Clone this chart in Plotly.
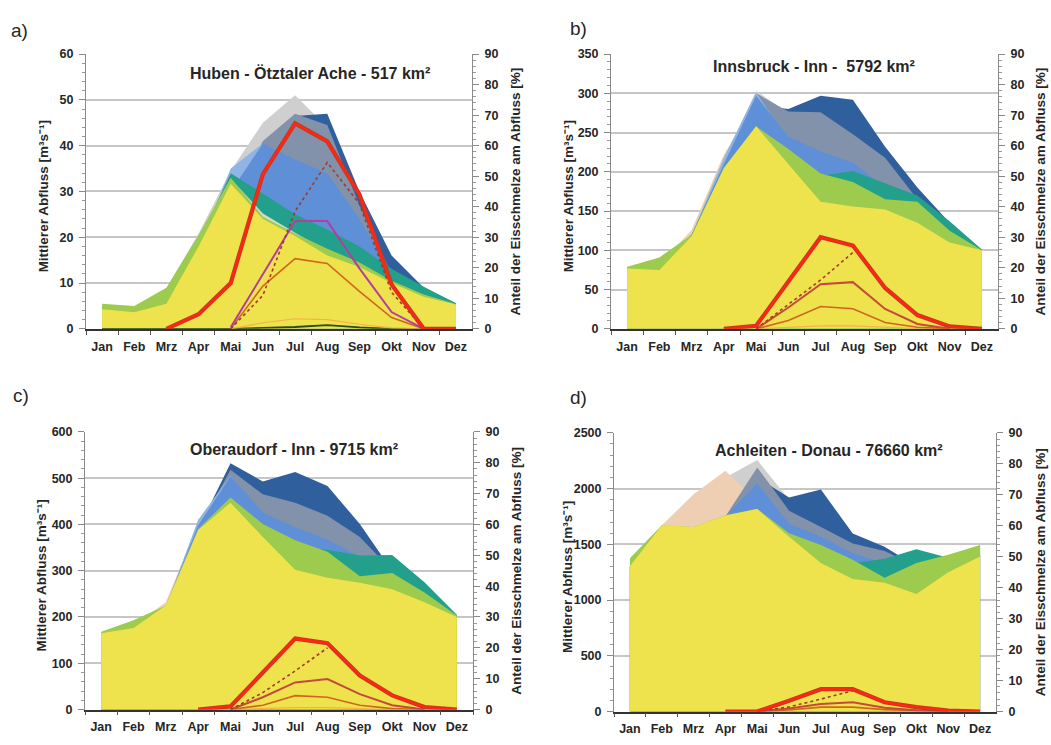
import plotly.graph_objects as go

months = ["Jan", "Feb", "Mrz", "Apr", "Mai", "Jun", "Jul", "Aug", "Sep", "Okt", "Nov", "Dez"]

titles = ["Huben - Ötztaler Ache - 517 km²", "Innsbruck - Inn -  5792 km²",
          "Oberaudorf - Inn - 9715 km²", "Achleiten - Donau - 76660 km²"]
panel_labels = ["a)", "b)", "c)", "d)"]
left_max = [60, 350, 600, 2500]
left_dtick = [10, 50, 100, 500]
right_max = 90
right_dtick = 10

# ---- a) Huben - Ötztaler Ache (m3/s) ----
a_lightgray = [5.2, 4.6, 8.8, 20.8, 34.5, 45, 51, 44, 28, 14, 8.5, 5.5]
a_darkblue = [4, 3.5, 5, 16, 28, 36, 46.5, 47, 30, 16, 9.0, 5.6]
a_slate = [4, 3.5, 5, 16, 28, 41, 47, 44.5, 27, 12, 8, 5.5]
a_lightblue = [4, 3.5, 5, 18, 35, 40.5, 30, 20, 14, 10, 7, 5]
a_medblue = [4, 3.5, 5, 16, 30, 40.5, 37, 34, 24, 12, 8, 5]
a_teal = [5, 4.5, 8, 19, 34, 29.5, 25, 21.7, 18, 13.1, 9.2, 5.6]
a_silver = [4, 3.5, 5, 19.5, 32.8, 25.2, 21, 17, 14, 10, 7, 5.3]
a_green = [5.5, 5, 9, 20.5, 33, 24.5, 20.8, 17.5, 14.5, 10.5, 7.5, 5.4]
a_yellow = [4.3, 3.6, 5.5, 18, 31.7, 24, 20.3, 16, 13.5, 10, 7, 5.3]
a_dkgreen = [0, 0, 0, 0, 0, 0.2, 0.4, 0.8, 0.3, 0, 0, 0]
# percent lines
a_red = [None, None, 0, 4.8, 15, 50.7, 67.3, 61.4, 44, 14.5, 0, 0]
a_dotted = [None, None, None, None, 0, 11, 38.5, 54.5, 41, 12, 0, None]
a_magenta = [None, None, None, None, 0.5, 18, 35.3, 35.3, 19.8, 5.5, 0, None]
a_orange = [None, None, None, None, 0, 14, 23, 21.4, 12.3, 3.7, 0, None]
a_faint = [None, None, None, None, 0, 2, 3.3, 3, 1.5, 0.3, 0, None]

# ---- b) Innsbruck - Inn ----
b_lightgray = [78, 83, 120, 215, 303, 275, 255, 230, 190, 160, 125, 100]
b_peach = [77, 82, 126, 222, 290, 230, 200, 180, 160, 140, 115, 100]
b_darkblue = [77, 80, 120, 205, 285, 280, 297, 292, 232, 180, 135, 100]
b_slate = [77, 80, 120, 205, 300, 277, 276, 248, 218, 165, 125, 100]
b_lightblue = [77, 80, 120, 218, 301, 240, 210, 190, 170, 150, 110, 100]
b_medblue = [77, 80, 120, 210, 297, 245, 226, 212, 180, 150, 110, 100]
b_teal = [78, 82, 120, 205, 255, 225, 195, 201, 185, 170, 137, 101]
b_green = [79, 91, 120, 205, 258, 229, 198, 187, 165, 162, 125, 100]
b_yellow = [77, 75, 118, 205, 258, 210, 162, 156, 152, 135, 110, 100]
b_red = [None, None, None, 0, 1, 15.5, 30, 27.3, 13.4, 4.5, 0.8, 0]
b_dotted = [None, None, None, None, 0, 8, 16, 25, None, None, None, None]
b_magenta = [None, None, None, None, 0, 7, 14.6, 15.3, 6.5, 1.6, 0, None]
b_orange = [None, None, None, None, 0, 2.7, 7.3, 6.6, 2.1, 0.5, 0, None]
b_faint = [None, None, None, None, 0, 0.5, 1, 1, 0.5, 0.1, 0, None]

# ---- c) Oberaudorf - Inn ----
c_lightgray = [166, 180, 228, 395, 470, 420, 390, 360, 320, 290, 240, 200]
c_peach = [167, 182, 232, 402, 460, 400, 360, 340, 300, 280, 235, 200]
c_darkblue = [165, 180, 222, 390, 532, 493, 513, 483, 401, 300, 250, 202]
c_slate = [165, 180, 222, 390, 518, 465, 447, 419, 373, 300, 245, 200]
c_lightblue = [165, 180, 222, 410, 505, 420, 380, 350, 320, 290, 240, 200]
c_medblue = [165, 180, 222, 398, 504, 426, 394, 367, 330, 295, 240, 200]
c_teal = [165, 178, 222, 385, 440, 390, 350, 345, 333, 334, 275, 205]
c_green = [168, 193, 225, 390, 458, 401, 366, 341, 288, 295, 253, 203]
c_yellow = [165, 176, 225, 388, 447, 373, 302, 285, 274, 260, 232, 200]
c_red = [None, None, None, 0, 1, 12, 23, 21.5, 11, 4.6, 0.8, 0]
c_dotted = [None, None, None, None, 0, 5.5, 12.5, 20, None, None, None, None]
c_magenta = [None, None, None, None, 0, 4, 8.8, 9.9, 5, 1.4, 0, None]
c_orange = [None, None, None, None, 0, 1.4, 4.5, 4, 1.4, 0.3, 0, None]
c_faint = [None, None, None, None, 0, 0.3, 0.6, 0.6, 0.3, 0, 0, None]

# ---- d) Achleiten - Donau ----
d_lightgray = [1300, 1650, 1850, 2100, 2256, 1900, 1700, 1500, 1350, 1250, 1300, 1400]
d_peach = [1305, 1670, 1948, 2160, 1880, 1600, 1400, 1250, 1150, 1100, 1250, 1400]
d_darkblue = [1300, 1650, 1650, 1750, 2100, 1919, 1992, 1596, 1479, 1303, 1250, 1400]
d_slate = [1300, 1650, 1650, 1750, 2190, 1802, 1655, 1508, 1440, 1300, 1250, 1400]
d_medblue = [1300, 1650, 1650, 1750, 2050, 1684, 1567, 1420, 1330, 1250, 1250, 1400]
d_teal = [1300, 1650, 1650, 1750, 1800, 1560, 1450, 1330, 1370, 1455, 1380, 1490]
d_green = [1376, 1670, 1656, 1760, 1818, 1600, 1494, 1362, 1200, 1332, 1406, 1494]
d_yellow = [1303, 1670, 1655, 1758, 1816, 1567, 1332, 1188, 1156, 1055, 1250, 1390]
d_red = [None, None, None, 0, 0, 3.5, 7.2, 7.2, 3, 1.4, 0.3, 0]
d_dotted = [None, None, None, None, 0, 1.5, 4, 6.7, None, None, None, None]
d_magenta = [None, None, None, None, 0, 1, 2.4, 3, 1.2, 0.4, 0, None]
d_orange = [None, None, None, None, 0, 0.5, 1.4, 1.4, 0.6, 0.2, 0, None]

area_colors = {
    "lightgray": "#cfcfcf", "peach": "#efcfb4", "darkblue": "#2f5f9c", "slate": "#8292ab",
    "lightblue": "#8fb5e6", "medblue": "#5f8fd6", "teal": "#23a08c", "silver": "#d6d8c8",
    "green": "#9ccb4e", "yellow": "#eee34c",
}
area_order = ["lightgray", "peach", "darkblue", "slate", "lightblue", "medblue", "teal",
              "silver", "green", "yellow"]

panels = [
    dict(lightgray=a_lightgray, darkblue=a_darkblue, slate=a_slate, lightblue=a_lightblue,
         medblue=a_medblue, teal=a_teal, silver=a_silver, green=a_green, yellow=a_yellow,
         red=a_red, dotted=a_dotted, magenta=a_magenta, orange=a_orange, faint=a_faint,
         dkgreen=a_dkgreen, magcol="#b23f9e"),
    dict(lightgray=b_lightgray, peach=b_peach, darkblue=b_darkblue, slate=b_slate,
         lightblue=b_lightblue, medblue=b_medblue, teal=b_teal, green=b_green, yellow=b_yellow,
         red=b_red, dotted=b_dotted, magenta=b_magenta, orange=b_orange, faint=b_faint,
         magcol="#c44a3c"),
    dict(lightgray=c_lightgray, peach=c_peach, darkblue=c_darkblue, slate=c_slate,
         lightblue=c_lightblue, medblue=c_medblue, teal=c_teal, green=c_green, yellow=c_yellow,
         red=c_red, dotted=c_dotted, magenta=c_magenta, orange=c_orange, faint=c_faint,
         magcol="#c44a3c"),
    dict(lightgray=d_lightgray, peach=d_peach, darkblue=d_darkblue, slate=d_slate,
         medblue=d_medblue, teal=d_teal, green=d_green, yellow=d_yellow,
         red=d_red, dotted=d_dotted, magenta=d_magenta, orange=d_orange,
         magcol="#c44a3c"),
]

# plot-area boxes in pixels (left, right, top, bottom) on a 1051x745 page
W, H = 1051, 745
boxes = [(86, 472, 48, 328), (611, 998, 48, 328), (85, 473, 433, 716), (614, 996, 434, 718)]
label_pos = [(19, 24), (578, 22), (21, 396), (578, 398)]
title_pos = [(310, 67), (814, 61), (294, 451), (829, 452)]
ltitle_x = [43, 568, 42, 567]
rtitle_x = [515, 1040, 517, 1040]

FONT = "Liberation Sans, Arial, sans-serif"
TXT = "#262626"

fig = go.Figure()
layout = dict(width=W, height=H, margin=dict(l=0, r=0, t=0, b=0),
              paper_bgcolor="white", plot_bgcolor="white", showlegend=False,
              font=dict(family=FONT, color=TXT))
annotations = []

for i, p in enumerate(panels):
    L, R, T, B = boxes[i]
    xd = [L / W, R / W]
    yd = [1 - B / H, 1 - T / H]
    xid, yl, yr = i + 1, 2 * i + 1, 2 * i + 2
    xa, yla, yra = f"x{xid}", f"y{yl}", f"y{yr}"

    for name in area_order:
        if name in p:
            fig.add_trace(go.Scatter(x=months, y=p[name], xaxis=xa, yaxis=yla, mode="lines",
                                     fill="tozeroy", fillcolor=area_colors[name],
                                     line=dict(width=0, color=area_colors[name]),
                                     hoverinfo="skip"))
    if "dkgreen" in p:
        fig.add_trace(go.Scatter(x=months, y=p["dkgreen"], xaxis=xa, yaxis=yla, mode="lines",
                                 line=dict(width=1.8, color="#2e4a1c"), hoverinfo="skip"))

    # percent lines on right axis
    if "faint" in p:
        fig.add_trace(go.Scatter(x=months, y=p["faint"], xaxis=xa, yaxis=yra, mode="lines",
                                 line=dict(width=1.2, color="#f2b347")))
    fig.add_trace(go.Scatter(x=months, y=p["orange"], xaxis=xa, yaxis=yra, mode="lines",
                             line=dict(width=1.6, color="#d0661e")))
    fig.add_trace(go.Scatter(x=months, y=p["magenta"], xaxis=xa, yaxis=yra, mode="lines",
                             line=dict(width=2, color=p["magcol"])))
    fig.add_trace(go.Scatter(x=months, y=p["dotted"], xaxis=xa, yaxis=yra, mode="lines",
                             line=dict(width=1.6, color="#a4382a", dash="dot")))
    fig.add_trace(go.Scatter(x=months, y=p["red"], xaxis=xa, yaxis=yra, mode="lines",
                             line=dict(width=4.2, color="#c23a1c")))
    fig.add_trace(go.Scatter(x=months, y=p["red"], xaxis=xa, yaxis=yra, mode="lines",
                             line=dict(width=2.4, color="#ff2618")))

    tickfont = dict(family=FONT, size=12.5, color=TXT, weight="bold")
    layout[f"xaxis{xid}"] = dict(
        domain=xd, anchor=yla, type="category", categoryorder="array",
        categoryarray=months, range=[-0.5, 11.5], tickson="boundaries", tickangle=0,
        ticks="outside", ticklen=4, tickcolor="#555", showline=True, linecolor="#333",
        linewidth=1.5, showgrid=False, zeroline=False, ticklabelstandoff=5,
        tickfont=dict(family=FONT, size=12.5, color=TXT, weight="bold"))
    layout[f"yaxis{yl}"] = dict(
        domain=yd, anchor=xa, range=[0, left_max[i]], tick0=0, dtick=left_dtick[i],
        ticks="outside", ticklen=6, tickcolor="#888", showline=True, linecolor="#8a8a8a",
        linewidth=1, showgrid=True, gridcolor="#c6c6c6", gridwidth=1.6, zeroline=False,
        minor=dict(dtick=left_dtick[i] / 5, ticks="outside", ticklen=3, tickcolor="#999",
                   showgrid=False),
        tickfont=tickfont, ticklabelstandoff=3)
    layout[f"yaxis{yr}"] = dict(
        overlaying=yla, side="right", anchor=xa, range=[0, right_max], tick0=0,
        dtick=right_dtick, ticks="outside", ticklen=6, tickcolor="#888", showline=True,
        linecolor="#8a8a8a", linewidth=1, showgrid=False, zeroline=False,
        minor=dict(dtick=2, ticks="outside", ticklen=3, tickcolor="#999", showgrid=False),
        tickfont=tickfont, ticklabelstandoff=3)

    lx, ly = label_pos[i]
    annotations.append(dict(text=panel_labels[i], x=lx / W, y=1 - ly / H, xref="paper",
                            yref="paper", showarrow=False, xanchor="center", yanchor="middle",
                            font=dict(family=FONT, size=19, color=TXT)))
    tx, ty = title_pos[i]
    annotations.append(dict(text="<b>" + titles[i] + "</b>", x=tx / W, y=1 - ty / H,
                            xref="paper", yref="paper", showarrow=False, xanchor="center",
                            yanchor="middle", font=dict(family=FONT, size=16, color=TXT)))
    cy = (T + B) / 2
    annotations.append(dict(text="<b>Mittlerer Abfluss [m³s⁻¹]</b>", x=ltitle_x[i] / W,
                            y=1 - (cy + 5) / H, xref="paper", yref="paper", showarrow=False,
                            textangle=-90, xanchor="center", yanchor="middle",
                            font=dict(family=FONT, size=13.5, color=TXT)))
    annotations.append(dict(text="<b>Anteil der Eisschmelze am Abfluss [%]</b>",
                            x=rtitle_x[i] / W, y=1 - cy / H, xref="paper", yref="paper",
                            showarrow=False, textangle=-90, xanchor="center",
                            yanchor="middle", font=dict(family=FONT, size=13.5, color=TXT)))

layout["annotations"] = annotations
fig.update_layout(**layout)
fig.update_traces(showlegend=False)
fig.write_html("out.html")
